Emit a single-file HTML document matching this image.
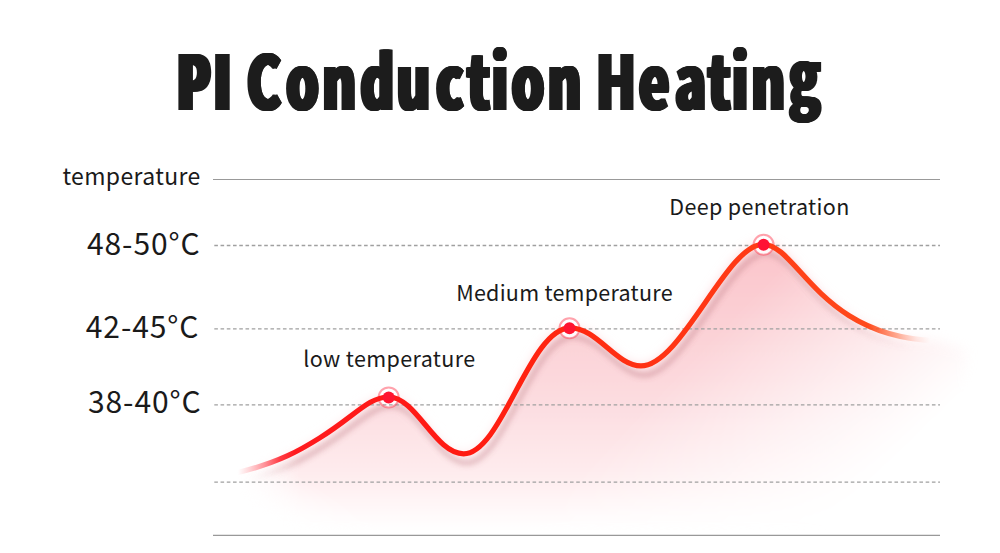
<!DOCTYPE html>
<html><head><meta charset="utf-8"><style>
html,body{margin:0;padding:0;background:#fff;}
body{width:1000px;height:553px;overflow:hidden;}
svg{display:block;}
.ttl text{font-family:"Noto Sans CJK SC",sans-serif;font-weight:900;font-size:200px;fill:#1e1e1e;}
.lbl{font-family:"Noto Sans CJK SC","Liberation Sans",sans-serif;font-weight:400;fill:#1a1a1a;}
.dash{stroke:#a0a0a0;stroke-width:1.3;stroke-dasharray:3.6 2.64;}
.solid{stroke:#999;stroke-width:1.2;}
</style></head><body>
<svg width="1000" height="553" viewBox="0 0 1000 553">
<defs>
<linearGradient id="fillV" x1="0" y1="240" x2="0" y2="530" gradientUnits="userSpaceOnUse">
<stop offset="0" stop-color="#fbc4ca"/>
<stop offset="0.5" stop-color="#fcd9dd"/>
<stop offset="0.8" stop-color="#feebed"/>
<stop offset="1" stop-color="#ffffff"/>
</linearGradient>
<linearGradient id="fadeL" x1="236" y1="0" x2="300" y2="0" gradientUnits="userSpaceOnUse">
<stop offset="0" stop-color="#fff" stop-opacity="0"/>
<stop offset="1" stop-color="#fff" stop-opacity="1"/>
</linearGradient>
<linearGradient id="fadeR" x1="750" y1="300" x2="905" y2="452" gradientUnits="userSpaceOnUse">
<stop offset="0" stop-color="#fff" stop-opacity="1"/>
<stop offset="1" stop-color="#fff" stop-opacity="0"/>
</linearGradient>
<linearGradient id="fadeBL" x1="262" y1="515" x2="290" y2="470" gradientUnits="userSpaceOnUse">
<stop offset="0" stop-color="#fff" stop-opacity="0"/>
<stop offset="1" stop-color="#fff" stop-opacity="1"/>
</linearGradient>
<mask id="maskBL" maskUnits="userSpaceOnUse" x="0" y="0" width="1000" height="553">
<rect x="0" y="0" width="1000" height="553" fill="url(#fadeBL)"/>
</mask>
<mask id="maskL" maskUnits="userSpaceOnUse" x="0" y="0" width="1000" height="553">
<rect x="0" y="0" width="1000" height="553" fill="url(#fadeL)"/>
</mask>
<mask id="maskR" maskUnits="userSpaceOnUse" x="0" y="0" width="1000" height="553">
<rect x="0" y="0" width="1000" height="553" fill="url(#fadeR)"/>
</mask>
<linearGradient id="strokeG" x1="238" y1="0" x2="935" y2="0" gradientUnits="userSpaceOnUse">
<stop offset="0" stop-color="#ff3040" stop-opacity="0"/>
<stop offset="0.017" stop-color="#ff2a38" stop-opacity="0.2"/>
<stop offset="0.039" stop-color="#ff2230" stop-opacity="0.5"/>
<stop offset="0.06" stop-color="#ff1a24" stop-opacity="0.85"/>
<stop offset="0.082" stop-color="#ff1a1e" stop-opacity="1"/>
<stop offset="0.3185" stop-color="#ff1a12"/>
<stop offset="0.4763" stop-color="#ff2810"/>
<stop offset="0.5768" stop-color="#ff3214"/>
<stop offset="0.7547" stop-color="#ff3c16"/>
<stop offset="0.904" stop-color="#ff4a1c" stop-opacity="1"/>
<stop offset="0.947" stop-color="#ff6030" stop-opacity="0.5"/>
<stop offset="0.973" stop-color="#ff7050" stop-opacity="0.15"/>
<stop offset="0.993" stop-color="#ff8060" stop-opacity="0"/>
</linearGradient>
<linearGradient id="shadowG" x1="238" y1="0" x2="935" y2="0" gradientUnits="userSpaceOnUse">
<stop offset="0" stop-color="rgb(170,90,100)" stop-opacity="0"/>
<stop offset="0.08" stop-color="rgb(170,90,100)" stop-opacity="0.28"/>
<stop offset="0.86" stop-color="rgb(170,90,100)" stop-opacity="0.28"/>
<stop offset="0.97" stop-color="rgb(170,90,100)" stop-opacity="0"/>
</linearGradient>
<filter id="thick0" x="-5%" y="-5%" width="110%" height="110%"><feOffset in="SourceGraphic" dx="0.65" result="o1"/><feOffset in="SourceGraphic" dx="1.30" result="o2"/><feOffset in="SourceGraphic" dx="1.95" result="o3"/><feOffset in="SourceGraphic" dx="2.60" result="o4"/><feOffset in="SourceGraphic" dx="3.25" result="o5"/><feOffset in="SourceGraphic" dx="3.90" result="o6"/><feMerge><feMergeNode in="SourceGraphic"/><feMergeNode in="o1"/><feMergeNode in="o2"/><feMergeNode in="o3"/><feMergeNode in="o4"/><feMergeNode in="o5"/><feMergeNode in="o6"/></feMerge></filter>
<filter id="thick1" x="-5%" y="-5%" width="110%" height="110%"><feOffset in="SourceGraphic" dx="0.72" result="o1"/><feOffset in="SourceGraphic" dx="1.43" result="o2"/><feOffset in="SourceGraphic" dx="2.15" result="o3"/><feOffset in="SourceGraphic" dx="2.87" result="o4"/><feOffset in="SourceGraphic" dx="3.58" result="o5"/><feOffset in="SourceGraphic" dx="4.30" result="o6"/><feMerge><feMergeNode in="SourceGraphic"/><feMergeNode in="o1"/><feMergeNode in="o2"/><feMergeNode in="o3"/><feMergeNode in="o4"/><feMergeNode in="o5"/><feMergeNode in="o6"/></feMerge></filter>
<filter id="thick2" x="-5%" y="-5%" width="110%" height="110%"><feOffset in="SourceGraphic" dx="0.92" result="o1"/><feOffset in="SourceGraphic" dx="1.83" result="o2"/><feOffset in="SourceGraphic" dx="2.75" result="o3"/><feOffset in="SourceGraphic" dx="3.67" result="o4"/><feOffset in="SourceGraphic" dx="4.58" result="o5"/><feOffset in="SourceGraphic" dx="5.50" result="o6"/><feMerge><feMergeNode in="SourceGraphic"/><feMergeNode in="o1"/><feMergeNode in="o2"/><feMergeNode in="o3"/><feMergeNode in="o4"/><feMergeNode in="o5"/><feMergeNode in="o6"/></feMerge></filter>
<filter id="blur6" x="-10%" y="-10%" width="120%" height="120%"><feGaussianBlur stdDeviation="6"/></filter>
<filter id="shadow" x="-10%" y="-20%" width="120%" height="140%"><feGaussianBlur stdDeviation="2.6"/></filter>
</defs>
<rect width="1000" height="553" fill="#fff"/>
<g class="ttl">
<g filter="url(#thick2)"><text transform="matrix(0.2401 0 0 0.3760 0 0)" x="725.5 878.9" y="293.09">PI</text></g>
<g filter="url(#thick1)"><text transform="matrix(0.2567 0 0 0.3780 0 0)" x="953.4 1106.4 1248.0 1395.3 1537.2 1690.5 1811.7 1906.9 1984.7 2125.3" y="291.53">Conduction</text></g>
<g filter="url(#thick0)"><text transform="matrix(0.2580 0 0 0.3740 0 0)" x="2302.4 2468.4 2608.4 2735.4 2828.5 2904.4 3049.8" y="294.65 294.65 294.65 294.65 294.65 294.65 281.28">Heating</text></g>
</g>
<text class="lbl" x="62.4" y="184.9" font-size="23" letter-spacing="0.36">temperature</text>
<text class="lbl" x="87" y="255.4" font-size="30" letter-spacing="0.9">48-50°C</text>
<text class="lbl" x="85.8" y="338" font-size="30" letter-spacing="0.9">42-45°C</text>
<text class="lbl" x="88" y="413" font-size="30" letter-spacing="0.9">38-40°C</text>
<g mask="url(#maskBL)"><g mask="url(#maskL)"><g mask="url(#maskR)"><path d="M238.0,472.5 C280.3,462.1 301.0,449.7 319.8,437.9 C354.8,416.1 368.5,397.0 388.7,397.0 C416.2,397.0 435.1,453.8 463.6,453.8 C501.9,453.8 529.4,327.8 570.3,327.8 C596.9,327.8 616.5,365.9 640.9,365.9 C681.2,365.9 726.9,244.3 762.8,244.3 C797.9,244.3 818.6,336.7 935.0,340.5 L968,350 L968,535 L238,535 Z" fill="url(#fillV)" filter="url(#blur6)"/></g></g></g>
<g mask="url(#maskL)"><g mask="url(#maskR)"><path d="M238.0,472.5 C280.3,462.1 301.0,449.7 319.8,437.9 C354.8,416.1 368.5,397.0 388.7,397.0 C416.2,397.0 435.1,453.8 463.6,453.8 C501.9,453.8 529.4,327.8 570.3,327.8 C596.9,327.8 616.5,365.9 640.9,365.9 C681.2,365.9 726.9,244.3 762.8,244.3 C797.9,244.3 818.6,336.7 935.0,340.5" fill="none" stroke="url(#shadowG)" stroke-width="6" transform="translate(3,9)" filter="url(#shadow)"/></g></g>
<circle cx="388.7" cy="397.4" r="10" fill="#fff" fill-opacity="0.92"/>
<circle cx="569.5" cy="328.3" r="10" fill="#fff" fill-opacity="0.92"/>
<circle cx="763.6" cy="244.8" r="10" fill="#fff" fill-opacity="0.92"/>
<line x1="213" y1="179.5" x2="940" y2="179.5" class="solid"/>
<line x1="213" y1="535.3" x2="940" y2="535.3" class="solid"/>
<line x1="214.3" y1="245.5" x2="940" y2="245.5" class="dash"/>
<line x1="214.3" y1="328.9" x2="940" y2="328.9" class="dash"/>
<line x1="214.3" y1="404.9" x2="940" y2="404.9" class="dash"/>
<line x1="214.3" y1="482.2" x2="940" y2="482.2" class="dash"/>
<circle cx="388.7" cy="397.4" r="10" fill="none" stroke="rgba(255,70,90,0.5)" stroke-width="2"/>
<circle cx="569.5" cy="328.3" r="10" fill="none" stroke="rgba(255,70,90,0.5)" stroke-width="2"/>
<circle cx="763.6" cy="244.8" r="10" fill="none" stroke="rgba(255,70,90,0.5)" stroke-width="2"/>
<path d="M238.0,472.5 C280.3,462.1 301.0,449.7 319.8,437.9 C354.8,416.1 368.5,397.0 388.7,397.0 C416.2,397.0 435.1,453.8 463.6,453.8 C501.9,453.8 529.4,327.8 570.3,327.8 C596.9,327.8 616.5,365.9 640.9,365.9 C681.2,365.9 726.9,244.3 762.8,244.3 C797.9,244.3 818.6,336.7 935.0,340.5" fill="none" stroke="url(#strokeG)" stroke-width="5.2" stroke-linecap="round"/>
<circle cx="388.7" cy="397.4" r="6" fill="#ff1430"/>
<circle cx="569.5" cy="328.3" r="6" fill="#ff1430"/>
<circle cx="763.6" cy="244.8" r="6" fill="#ff1235"/>
<text class="lbl" x="303.2" y="367" font-size="21.5" letter-spacing="0.38" fill="#222">low temperature</text>
<text class="lbl" x="456.2" y="300.6" font-size="21.5" letter-spacing="0.26" fill="#222">Medium temperature</text>
<text class="lbl" x="669.3" y="214.8" font-size="21.5" letter-spacing="0.36" fill="#222">Deep penetration</text>
</svg>
</body></html>
